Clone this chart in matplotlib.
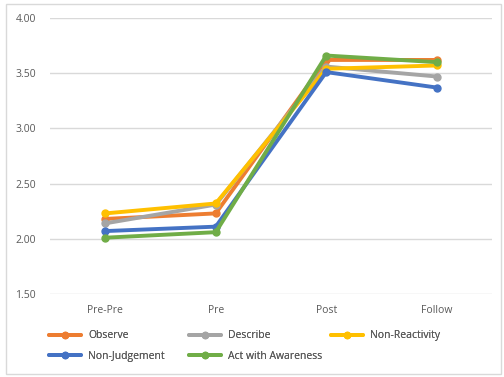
import matplotlib.pyplot as plt
from matplotlib.patches import Rectangle

plt.rcParams['font.family'] = ['Open Sans', 'DejaVu Sans']

phases = ['Pre-Pre', 'Pre', 'Post', 'Follow']
observe = [2.18, 2.23, 3.62, 3.62]
describe = [2.14, 2.31, 3.56, 3.47]
non_reactivity = [2.23, 2.32, 3.54, 3.57]
non_judgement = [2.07, 2.11, 3.51, 3.37]
act_awareness = [2.01, 2.06, 3.66, 3.60]

series = [
    ('Observe', observe, '#ED7D31'),
    ('Describe', describe, '#A5A5A5'),
    ('Non-Reactivity', non_reactivity, '#FFC000'),
    ('Non-Judgement', non_judgement, '#4472C4'),
    ('Act with Awareness', act_awareness, '#70AD47'),
]

fig = plt.figure(figsize=(5.04, 3.77), dpi=100)
fig.patches.append(Rectangle((6 / 504, 3 / 377), 495 / 504, 370 / 377,
                             transform=fig.transFigure, fill=False,
                             edgecolor='#D9D9D9', linewidth=1))
ax = fig.add_axes([50 / 504, (377 - 294) / 377, 442 / 504, 276 / 377])

x = range(len(phases))
handles = []
for name, vals, col in series:
    ln, = ax.plot(x, vals, color=col, linewidth=2.8, marker='o', markersize=5,
                  label=name, solid_capstyle='round')
    handles.append(ln)

ax.set_xlim(-0.5, 3.5)
ax.set_ylim(1.5, 4.0)
ax.set_yticks([1.5, 2.0, 2.5, 3.0, 3.5, 4.0])
ax.set_yticklabels([f'{v:.2f}' for v in ax.get_yticks()])
ax.set_xticks(list(x))
ax.set_xticklabels(phases)
ax.grid(axis='y', color='#D9D9D9', linewidth=1)
ax.set_axisbelow(True)
for s in ax.spines.values():
    s.set_visible(False)
ax.tick_params(length=0, labelsize=7.5, colors='#595959')
ax.tick_params(axis='y', pad=10)
ax.tick_params(axis='x', pad=8)

# legend laid out row by row: three equal-width columns
columns = [[handles[0], handles[3]], [handles[1], handles[4]], [handles[2]]]
col_x = [40, 180, 322]
for hs, cx in zip(columns, col_x):
    leg = fig.legend(handles=hs, labels=[h.get_label() for h in hs],
                     loc='upper left', bbox_to_anchor=(cx / 504, 1 - 321 / 377),
                     frameon=False, fontsize=7.5, handlelength=3.0,
                     labelspacing=0.9, handletextpad=0.7, markerscale=0.9)
    for t in leg.get_texts():
        t.set_color('#595959')
    fig.add_artist(leg)

fig.savefig('out.png', dpi=100)
